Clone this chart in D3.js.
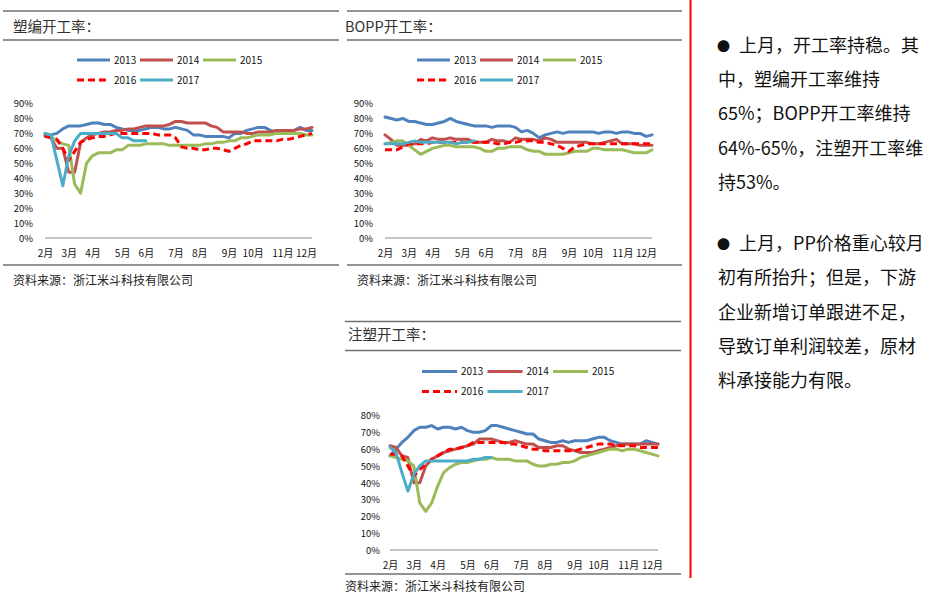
<!DOCTYPE html>
<html><head><meta charset="utf-8">
<script src="https://cdn.jsdelivr.net/npm/d3@7"></script>
<style>
html,body{margin:0;padding:0;background:#fff;}
svg{display:block;}
text{font-family:"Noto Sans CJK SC","Noto Sans",sans-serif;}
</style></head>
<body>
<svg id="c" width="929" height="597"></svg>
<script>
// ---------------- data ----------------
const months = ["2月","3月","4月","5月","6月","7月","8月","9月","10月","11月","12月"];
const monthWeek = [0,4,8,13,17,22,26,31,35,40,44];   // week index where each month label sits
const years = ["2013","2014","2015","2016","2017"];

// 塑编开工率 (%)
const sb2013 = [68,69,70,73,75,75,75,76,77,77,76,76,74,73,72,72,72,73,74,74,73,73,74,73,72,69,69,68,68,68,68,67,70,70,72,73,74,74,72,71,72,72,72,74,72,72];
const sb2014 = [69,67,60,60,44,44,64,67,69,70,71,71,72,72,73,73,74,75,75,75,75,76,78,78,77,77,77,77,75,74,71,71,71,71,70,70,71,71,71,72,72,72,72,73,73,74];
const sb2015 = [70,68,65,63,62,36,30,50,55,57,57,57,59,59,62,62,62,63,63,63,63,62,62,62,62,62,62,63,63,64,64,65,65,67,67,68,69,69,69,70,70,70,70,70,69,69];
const sb2016 = [68,67,66,60,52,58,64,66,67,68,68,69,70,70,70,70,70,70,70,69,69,69,67,61,60,60,59,59,60,60,59,58,60,62,63,65,65,65,65,65,66,66,67,68,69,70];
const sb2017 = [70,69,52,35,55,65,70,70,70,70,70,70,70,67,67,65,65,65];

// BOPP开工率 (%)
const bp2013 = [81,80,79,80,78,78,77,76,76,77,78,80,78,77,76,75,75,75,74,75,75,75,74,71,72,70,67,69,70,71,70,71,71,71,71,71,70,71,71,70,71,71,70,70,68,69];
const bp2014 = [69,66,62,62,62,63,66,65,67,66,66,67,66,66,66,64,64,64,66,65,65,64,67,66,66,66,65,67,66,64,64,64,64,64,64,63,63,64,65,66,63,63,63,62,62,62];
const bp2015 = [63,64,65,65,62,59,56,58,60,61,62,62,61,61,61,61,60,58,58,60,60,61,61,61,59,58,58,56,56,56,56,57,58,58,58,60,60,59,59,59,59,58,57,57,57,59];
const bp2016 = [59,59,59,61,63,63,63,63,64,64,64,64,64,64,64,64,64,64,64,63,63,64,64,65,65,65,64,64,63,62,60,58,61,62,63,63,63,63,63,63,63,63,63,63,63,63];
const bp2017 = [63,63,63,63,64,65,64,64,64,64,64,64,63,64,64,65];

// 注塑开工率 (%)
const zs2013 = [56,60,64,67,71,73,73,74,72,73,73,72,73,71,70,70,71,74,74,73,72,71,70,69,69,66,65,64,64,65,64,65,65,65,66,67,67,65,64,63,63,63,63,65,64,63];
const zs2014 = [62,61,56,55,40,40,50,54,56,58,59,60,61,62,63,66,66,66,65,64,64,65,64,63,63,61,61,61,62,62,60,59,58,58,58,59,60,61,62,63,63,63,63,63,63,63];
const zs2015 = [56,55,54,53,50,28,23,28,38,46,49,51,52,52,53,54,54,55,54,54,54,53,53,53,51,50,50,51,51,52,52,53,55,56,57,58,59,60,60,59,60,60,59,58,57,56];
const zs2016 = [57,57,56,50,44,48,51,54,56,58,60,60,61,62,64,64,64,64,64,64,63,63,62,61,60,60,59,59,59,59,59,59,60,61,62,63,63,63,62,62,62,62,61,61,61,61];
const zs2017 = [61,58,46,35,45,50,53,53,53,53,53,53,53,53,54,54,55,55];

const bulletText1 = ["上月，开工率持稳。其","中，塑编开工率维持","65%；BOPP开工率维持","64%-65%，注塑开工率维","持53%。"];
const bulletText2 = ["上月，PP价格重心较月","初有所抬升；但是，下游","企业新增订单跟进不足，","导致订单利润较差，原材","料承接能力有限。"];

// ---------------- styles ----------------
const seriesStyle = [
  {color:"#4F81BD", dash:null},
  {color:"#C0504D", dash:null},
  {color:"#9BBB59", dash:null},
  {color:"#FF0000", dash:"7,4"},
  {color:"#4BACC6", dash:null}
];

const svg = d3.select("#c");
svg.append("rect").attr("width",929).attr("height",597).attr("fill","#fff");

function drawPanel(cfg){
  const g = svg.append("g");
  // header rules and title
  g.append("line").attr("x1",cfg.hx0).attr("x2",cfg.hx1).attr("y1",cfg.hTop).attr("y2",cfg.hTop)
    .attr("stroke","#6f6f6f").attr("stroke-width",1.6);
  g.append("line").attr("x1",cfg.hx0).attr("x2",cfg.hx1).attr("y1",cfg.hBot).attr("y2",cfg.hBot)
    .attr("stroke","#6f6f6f").attr("stroke-width",1.6);
  g.append("text").attr("x",cfg.titleX).attr("y",cfg.titleY).attr("font-size",14.5)
    .attr("fill","#333").text(cfg.title);

  // legend
  cfg.series.forEach((s,k)=>{
    const col = k%3, row = Math.floor(k/3);
    const lx = cfg.legX + col*cfg.legDx, ly = cfg.legY + row*20;
    g.append("line").attr("x1",lx).attr("x2",lx+cfg.legLen).attr("y1",ly).attr("y2",ly)
      .attr("stroke",seriesStyle[k].color).attr("stroke-width",3)
      .attr("stroke-dasharray",seriesStyle[k].dash);
    g.append("text").attr("x",lx+cfg.legLen+4).attr("y",ly+3.5).attr("font-size",10)
      .attr("fill","#111").text(years[k]);
  });

  const x = d3.scaleLinear().domain([0,45]).range([cfg.px0,cfg.px1]);
  const y = d3.scaleLinear().domain([0,cfg.yMax]).range([cfg.py0,cfg.py1]);

  // y axis labels
  const yAxis = d3.axisLeft(y).tickValues(d3.range(0,cfg.yMax+1,10)).tickFormat(d=>d+"%").tickSize(0).tickPadding(0);
  const ya = g.append("g").attr("transform",`translate(${cfg.yLabX},0)`).call(yAxis);
  ya.select(".domain").remove();
  ya.selectAll("text").attr("font-size",9.5).attr("fill","#111").attr("font-family","\"Noto Sans CJK SC\",sans-serif").attr("dy","0.35em");

  // x axis line
  g.append("line").attr("x1",cfg.px0).attr("x2",cfg.px1).attr("y1",y(0)).attr("y2",y(0))
    .attr("stroke","#c4c4c4").attr("stroke-width",1.8);
  // x labels
  const xAxis = d3.axisBottom(x).tickValues(monthWeek).tickFormat((d,i)=>months[i]).tickSize(0).tickPadding(0);
  const xa = g.append("g").attr("transform",`translate(0,${cfg.xLabY})`).call(xAxis);
  xa.select(".domain").remove();
  xa.selectAll("text").attr("font-size",10).attr("fill","#111").attr("font-family","\"Noto Sans CJK SC\",sans-serif").attr("dy","0.35em");

  // lines
  const line = d3.line().defined(d=>d!=null).x((d,i)=>x(i)).y(d=>y(d));
  cfg.series.forEach((s,k)=>{
    g.append("path").attr("d",line(s)).attr("fill","none")
      .attr("stroke",seriesStyle[k].color).attr("stroke-width",3)
      .attr("stroke-linejoin","round").attr("stroke-linecap",seriesStyle[k].dash?"butt":"round")
      .attr("stroke-dasharray",seriesStyle[k].dash);
  });

  // source
  g.append("line").attr("x1",cfg.hx0).attr("x2",cfg.hx1).attr("y1",cfg.srcLineY).attr("y2",cfg.srcLineY)
    .attr("stroke","#6f6f6f").attr("stroke-width",1.6);
  g.append("text").attr("x",cfg.srcX).attr("y",cfg.srcY).attr("font-size",12).attr("fill","#222")
    .text("资料来源：浙江米斗科技有限公司");
}

drawPanel({title:"塑编开工率：", hx0:3, hx1:339, hTop:11, hBot:40, titleX:13, titleY:32,
  legX:77, legY:60, legDx:63, legLen:33,
  px0:45, px1:312, py0:238, py1:103.5, yMax:90, yLabX:33, xLabY:253,
  srcLineY:265, srcX:13, srcY:285,
  series:[sb2013,sb2014,sb2015,sb2016,sb2017]});

drawPanel({title:"BOPP开工率：", hx0:347, hx1:682, hTop:11, hBot:40, titleX:345, titleY:32,
  legX:417, legY:60, legDx:63, legLen:33,
  px0:385, px1:652, py0:238, py1:103.5, yMax:90, yLabX:373, xLabY:253,
  srcLineY:265, srcX:357, srcY:285,
  series:[bp2013,bp2014,bp2015,bp2016,bp2017]});

drawPanel({title:"注塑开工率：", hx0:345, hx1:681, hTop:321.5, hBot:350.5, titleX:348, titleY:340,
  legX:422, legY:371.5, legDx:65.5, legLen:35,
  px0:390, px1:658, py0:550, py1:415.5, yMax:80, yLabX:380, xLabY:565,
  srcLineY:574, srcX:345, srcY:591,
  series:[zs2013,zs2014,zs2015,zs2016,zs2017]});

// right column
svg.append("line").attr("x1",690.5).attr("x2",690.5).attr("y1",0).attr("y2",578)
  .attr("stroke","#FF0000").attr("stroke-width",2);

function para(lines, y0, step){
  lines.forEach((t,i)=>{
    const yy = y0 + i*step;
    const tx = svg.append("text").attr("y",yy).attr("font-size",18).attr("fill","#111");
    if(i===0){
      tx.append("tspan").attr("x",717).attr("font-size",13).attr("dy","-1").text("●");
      tx.append("tspan").attr("x",739).attr("dy","1").text(t);
    } else {
      tx.append("tspan").attr("x",718).text(t);
    }
  });
}
para(bulletText1, 52, 34.2);
para(bulletText2, 250, 34.3);
</script>
</body></html>
